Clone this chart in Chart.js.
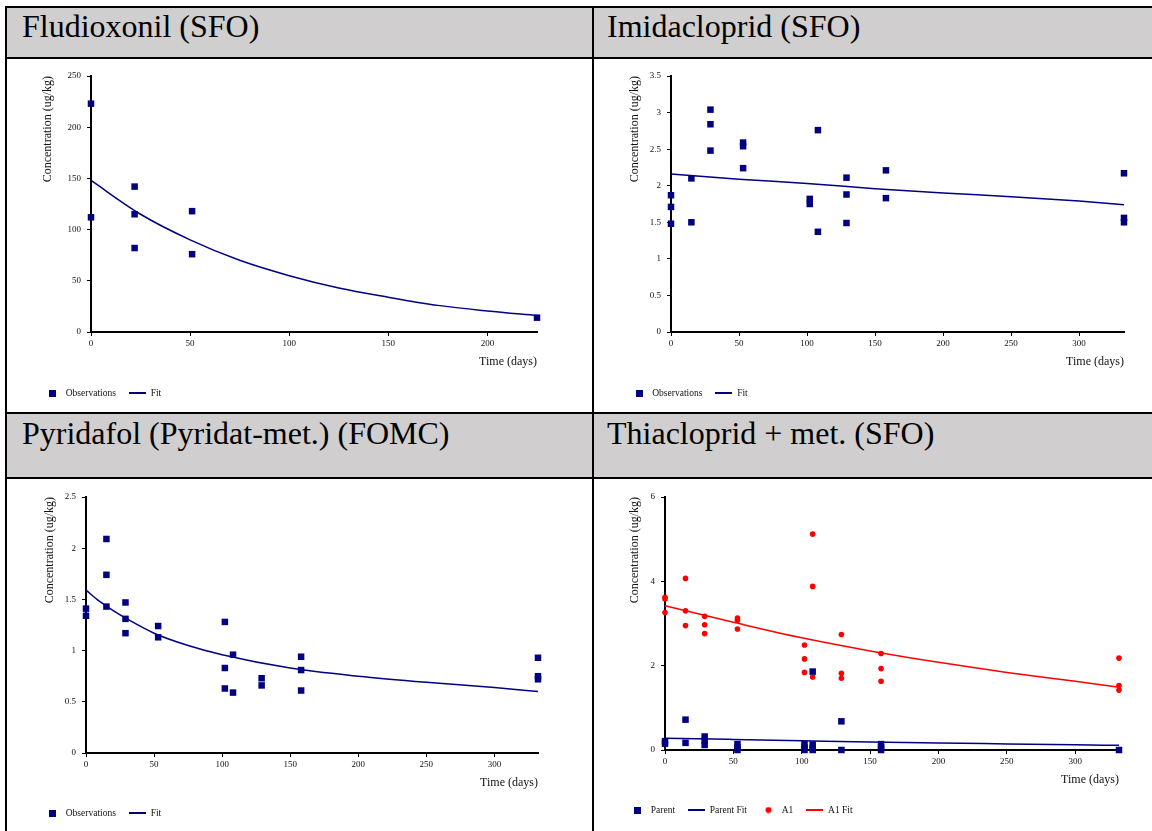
<!DOCTYPE html>
<html>
<head>
<meta charset="utf-8">
<script src="https://cdn.jsdelivr.net/npm/chart.js@4"></script>
<style>
  html, body { margin: 0; padding: 0; background: #fff; }
  body { width: 1152px; height: 831px; position: relative; overflow: hidden;
         font-family: "Liberation Serif", "Times New Roman", serif; }
  .rule { position: absolute; background: #000; z-index: 2; }
  .head { position: absolute; background: #d0cece; font-size: 32px; line-height: 32px;
          color: #000; box-sizing: border-box; white-space: nowrap; }
  canvas { position: absolute; }
</style>
</head>
<body>

<!-- header cells -->
<div class="head" style="left:7px;top:8px;width:585px;height:49px;padding:2px 0 0 15px">Fludioxonil (SFO)</div>
<div class="head" style="left:594px;top:8px;width:558px;height:49px;padding:2px 0 0 13px">Imidacloprid (SFO)</div>
<div class="head" style="left:7px;top:414px;width:585px;height:63px;padding:3px 0 0 15px">Pyridafol (Pyridat-met.) (FOMC)</div>
<div class="head" style="left:594px;top:414px;width:558px;height:63px;padding:3px 0 0 13px">Thiacloprid + met. (SFO)</div>

<!-- table rules -->
<div class="rule" style="left:5px;top:6px;width:1147px;height:2px"></div>
<div class="rule" style="left:5px;top:57px;width:1147px;height:2px"></div>
<div class="rule" style="left:5px;top:412px;width:1147px;height:2px"></div>
<div class="rule" style="left:5px;top:477px;width:1147px;height:2px"></div>
<div class="rule" style="left:5px;top:6px;width:2px;height:825px"></div>
<div class="rule" style="left:592px;top:6px;width:2px;height:825px"></div>

<canvas id="fludioxonil" width="585" height="353" style="left:7px;top:59px"></canvas>
<canvas id="imidacloprid" width="558" height="353" style="left:594px;top:59px"></canvas>
<canvas id="pyridafol" width="585" height="352" style="left:7px;top:479px"></canvas>
<canvas id="thiacloprid" width="558" height="352" style="left:594px;top:479px"></canvas>

<script>
  // Fludioxonil (SFO)
  const fludXTicks = [0, 50, 100, 150, 200];
  const fludYTicks = [0, 50, 100, 150, 200, 250];
  const fludObsDays = [0, 0, 22, 22, 22, 51, 51, 225];
  const fludObsConc = [223, 112, 142, 115, 82, 118, 76, 14];
  const fludFitDays = [0, 25, 50, 75, 100, 125, 150, 175, 200, 225];
  const fludFitConc = [148, 115, 90, 70, 55, 43, 34, 26, 20.5, 16];

  // Imidacloprid (SFO)
  const imidXTicks = [0, 50, 100, 150, 200, 250, 300];
  const imidYTicks = [0, 0.5, 1, 1.5, 2, 2.5, 3, 3.5];
  const imidObsDays = [0, 0, 0, 15, 15, 29, 29, 29, 53, 53, 53, 102, 102, 108, 108, 129, 129, 129, 158, 158, 333, 333, 333];
  const imidObsConc = [1.87, 1.71, 1.48, 2.10, 1.50, 3.04, 2.84, 2.48, 2.59, 2.54, 2.24, 1.82, 1.75, 2.76, 1.37, 2.11, 1.88, 1.49, 2.21, 1.83, 2.17, 1.56, 1.50];
  const imidFitDays = [0, 50, 100, 150, 200, 250, 300, 333];
  const imidFitConc = [2.16, 2.09, 2.03, 1.96, 1.90, 1.85, 1.79, 1.74];

  // Pyridafol (FOMC)
  const pyriXTicks = [0, 50, 100, 150, 200, 250, 300];
  const pyriYTicks = [0, 0.5, 1, 1.5, 2, 2.5];
  const pyriObsDays = [0, 0, 15, 15, 15, 29, 29, 29, 53, 53, 102, 102, 102, 108, 108, 129, 129, 158, 158, 158, 332, 332, 332];
  const pyriObsConc = [1.41, 1.34, 2.09, 1.74, 1.43, 1.47, 1.31, 1.17, 1.24, 1.13, 1.28, 0.83, 0.63, 0.96, 0.59, 0.73, 0.66, 0.94, 0.81, 0.61, 0.93, 0.75, 0.72];
  const pyriFitDays = [0, 10, 20, 30, 50, 75, 100, 150, 200, 250, 300, 332];
  const pyriFitConc = [1.59, 1.48, 1.39, 1.31, 1.17, 1.05, 0.96, 0.83, 0.75, 0.69, 0.64, 0.60];

  // Thiacloprid + met. (SFO)
  const thiaXTicks = [0, 50, 100, 150, 200, 250, 300];
  const thiaYTicks = [0, 2, 4, 6];
  const parentDays = [0, 0, 15, 15, 29, 29, 29, 53, 53, 53, 102, 102, 102, 108, 108, 108, 108, 129, 129, 158, 158, 158, 332];
  const parentConc = [0.21, 0.15, 0.72, 0.17, 0.32, 0.22, 0.12, 0.14, 0.06, 0.0, 0.14, 0.06, 0.0, 1.86, 0.13, 0.05, 0.0, 0.68, 0.0, 0.14, 0.06, 0.0, 0.0];
  const parentFitDays = [0, 50, 100, 150, 200, 250, 300, 332];
  const parentFitConc = [0.28, 0.25, 0.22, 0.19, 0.165, 0.145, 0.125, 0.11];
  const a1Days = [0, 0, 0, 15, 15, 15, 29, 29, 29, 53, 53, 53, 102, 102, 102, 108, 108, 108, 129, 129, 129, 158, 158, 158, 332, 332, 332];
  const a1Conc = [3.62, 3.58, 3.26, 4.07, 3.30, 2.95, 3.17, 2.97, 2.76, 3.13, 3.08, 2.87, 2.49, 2.16, 1.84, 5.12, 3.88, 1.73, 2.74, 1.82, 1.70, 2.29, 1.93, 1.63, 2.18, 1.53, 1.42];
  const a1FitDays = [0, 50, 100, 150, 200, 250, 300, 332];
  const a1FitConc = [3.42, 3.03, 2.66, 2.35, 2.08, 1.84, 1.63, 1.49];

  const NAVY = "#000080";
  const RED = "#ff0000";
  const SERIF = '"Liberation Serif", "Times New Roman", serif';
  const INK = "#111";

  function points(xs, ys) {
    return xs.map((x, i) => ({ x: x, y: ys[i] }));
  }

  // small images used as legend symbols
  function legendMarker(kind, color) {
    const c = document.createElement("canvas");
    if (kind === "line") {
      c.width = 17; c.height = 2;
    } else {
      c.width = 7; c.height = 7;
    }
    const g = c.getContext("2d");
    g.fillStyle = color;
    if (kind === "dot") {
      g.beginPath();
      g.arc(3.5, 3.5, 3, 0, Math.PI * 2);
      g.fill();
    } else {
      g.fillRect(0, 0, c.width, c.height);
    }
    return c;
  }

  // geo = plot area + legend/title anchors, in canvas pixels
  function makeChart(id, geo, xMax, yMax, xTicks, yTicks, series) {
    const canvas = document.getElementById(id);
    const W = canvas.width, H = canvas.height;
    const padLeft = geo.legendX - 8.5 - 13;
    const legendTop = geo.legendY - 17.75;
    const xScaleH = legendTop - geo.bottom;
    const markers = series.map(s =>
      legendMarker(s.fit ? "line" : (s.shape === "circle" ? "dot" : "square"), s.color));

    const tickFont = { family: SERIF, size: 9 };
    const titleFont = { family: SERIF, size: 12 };
    const plain = v => String(v);
    const axis = {
      type: "linear",
      min: 0,
      border: { display: true, color: "#000", width: 2 },
      grid: { drawOnChartArea: false, drawTicks: true, tickLength: 4, color: "#000", lineWidth: 1 },
    };

    const datasets = series.map(s => s.fit ? {
      type: "line",
      label: s.label,
      data: points(s.days, s.conc),
      borderColor: s.color,
      backgroundColor: s.color,
      borderWidth: 1.5,
      pointRadius: 0,
      pointHoverRadius: 0,
      cubicInterpolationMode: "monotone",
      fill: false,
      clip: false,
    } : {
      label: s.label,
      data: points(s.days, s.conc),
      pointStyle: s.shape === "circle" ? "circle" : "rect",
      pointRadius: s.shape === "circle" ? 2.8 : 4.6,
      backgroundColor: s.color,
      borderColor: s.color,
      borderWidth: 0,
      clip: false,
    });

    return new Chart(canvas, {
      type: "scatter",
      data: { datasets: datasets },
      options: {
        responsive: false,
        animation: false,
        events: [],
        layout: {
          padding: { top: geo.top, right: W - geo.right, left: padLeft, bottom: H - legendTop - 32.5 },
        },
        plugins: {
          tooltip: { enabled: false },
          legend: {
            position: "bottom",
            align: "start",
            labels: {
              usePointStyle: true,
              pointStyleWidth: 17,
              padding: 13,
              color: INK,
              font: { family: SERIF, size: 9.5 },
              generateLabels(chart) {
                const items = Chart.defaults.plugins.legend.labels.generateLabels(chart);
                items.forEach((it, i) => { it.pointStyle = markers[i]; });
                return items;
              },
            },
          },
        },
        scales: {
          x: {
            ...axis,
            position: "bottom",
            max: xMax,
            ticks: { font: tickFont, color: INK, padding: 2, maxRotation: 0, callback: plain },
            afterBuildTicks: s => { s.ticks = xTicks.map(v => ({ value: v })); },
            afterFit: s => { s.height = xScaleH; },
            title: {
              display: true, text: "Time (days)", align: "end", font: titleFont, color: INK,
              padding: { top: 0, bottom: xScaleH - 30 - 7.2 },
            },
          },
          y: {
            ...axis,
            position: "left",
            max: yMax,
            ticks: { font: tickFont, color: INK, padding: 6, callback: plain },
            afterBuildTicks: s => { s.ticks = yTicks.map(v => ({ value: v })); },
            afterFit: s => { s.width = geo.left - padLeft; },
            title: {
              display: true, text: "Concentration (ug/kg)", align: "end", font: titleFont, color: INK,
              padding: { top: geo.titleX - padLeft - 7.2, bottom: 0 },
            },
          },
        },
      },
    });
  }

  document.addEventListener("DOMContentLoaded", () => {
    makeChart("fludioxonil",
      { left: 84, top: 17, right: 530, bottom: 273, legendX: 45.5, legendY: 334, titleX: 41 },
      225, 250, fludXTicks, fludYTicks, [
        { label: "Observations", days: fludObsDays, conc: fludObsConc, color: NAVY, shape: "square" },
        { label: "Fit", days: fludFitDays, conc: fludFitConc, color: NAVY, fit: true },
      ]);

    makeChart("imidacloprid",
      { left: 77, top: 17, right: 530, bottom: 273, legendX: 45, legendY: 334, titleX: 41 },
      333, 3.5, imidXTicks, imidYTicks, [
        { label: "Observations", days: imidObsDays, conc: imidObsConc, color: NAVY, shape: "square" },
        { label: "Fit", days: imidFitDays, conc: imidFitConc, color: NAVY, fit: true },
      ]);

    makeChart("pyridafol",
      { left: 79, top: 18, right: 531, bottom: 274, legendX: 45.5, legendY: 334, titleX: 43 },
      332, 2.5, pyriXTicks, pyriYTicks, [
        { label: "Observations", days: pyriObsDays, conc: pyriObsConc, color: NAVY, shape: "square" },
        { label: "Fit", days: pyriFitDays, conc: pyriFitConc, color: NAVY, fit: true },
      ]);

    makeChart("thiacloprid",
      { left: 71, top: 18, right: 525, bottom: 271, legendX: 43.5, legendY: 331, titleX: 41 },
      332, 6, thiaXTicks, thiaYTicks, [
        { label: "Parent", days: parentDays, conc: parentConc, color: NAVY, shape: "square" },
        { label: "Parent Fit", days: parentFitDays, conc: parentFitConc, color: NAVY, fit: true },
        { label: "A1", days: a1Days, conc: a1Conc, color: RED, shape: "circle" },
        { label: "A1 Fit", days: a1FitDays, conc: a1FitConc, color: RED, fit: true },
      ]);
  });
</script>
</body>
</html>
